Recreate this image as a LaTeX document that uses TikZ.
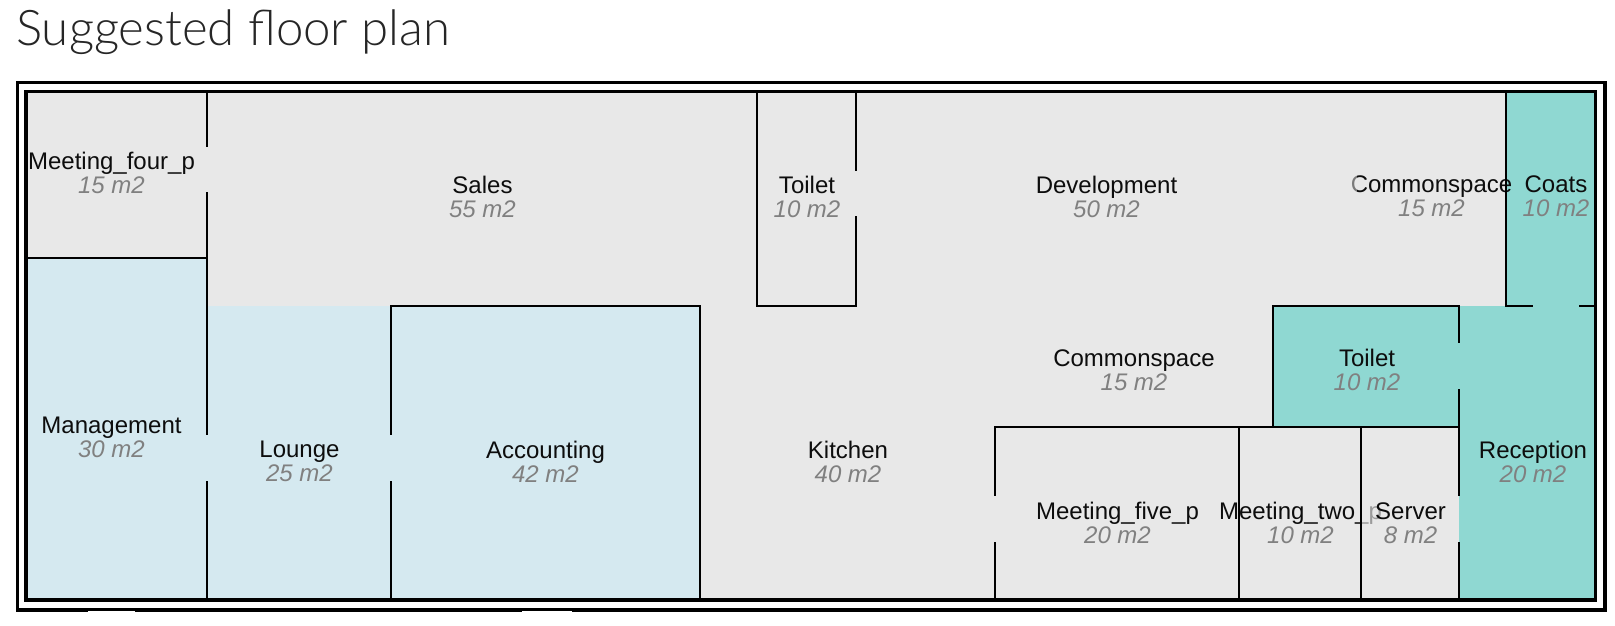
\documentclass[tikz,border=0pt]{standalone}
\usepackage{fontspec}
\setmainfont{Liberation Sans}
\newfontfamily\titlefont{Lato Light}
\definecolor{roomgray}{HTML}{E8E8E8}
\definecolor{roomblue}{HTML}{D5E9F0}
\definecolor{roomteal}{HTML}{8FD8D2}
\definecolor{areagray}{HTML}{808080}
\tikzset{
  wall/.style={line width=2pt,black,line cap=rect},
  frame/.style={line width=3.5pt,black},
  roomlabel/.style={align=center,inner sep=0pt,font=\fontsize{24}{24}\selectfont,text=black!95},
}
\newcommand{\rl}[2]{#1\\{\color{areagray}\itshape #2}}
\begin{document}
\begin{tikzpicture}[x=1pt,y=-1pt]
\useasboundingbox (0,0) rectangle (1615,625);
\node[anchor=base west,inner sep=0pt,font=\titlefont\fontsize{49.2}{49.2}\selectfont,text=black!85] (title) at (16,45.5) {Suggested floor plan};
% fills
\fill[roomgray] (26,91.5) rectangle (1596,600);
\fill[roomblue] (26,257.5) rectangle (207,600);
\fill[roomblue] (207,305.5) rectangle (700,600);
\fill[roomteal] (1506,91.5) rectangle (1596,305.5);
\fill[roomteal] (1273,305.5) rectangle (1596,427);
\fill[roomteal] (1459,427) rectangle (1596,600);
% labels
\node[roomlabel] (meetfour) at (111.5,172.5) {\rl{Meeting\_four\_p}{15 m2}};
\node[roomlabel] (sales) at (482.5,196.5) {\rl{Sales}{55 m2}};
\node[roomlabel] (toileta) at (807,196.5) {\rl{Toilet}{10 m2}};
\node[roomlabel] (dev) at (1106.5,196.5) {\rl{Development}{50 m2}};
\node[roomlabel] (commona) at (1431.5,196.5) {\rl{Commonspace}{15 m2}};
\node[roomlabel] (coats) at (1556,196.5) {\rl{Coats}{10 m2}};
\node[roomlabel] (commonb) at (1134,370) {\rl{Commonspace}{15 m2}};
\node[roomlabel] (toiletb) at (1367,369.5) {\rl{Toilet}{10 m2}};
\node[roomlabel] (mgmt) at (111.5,437.5) {\rl{Management}{30 m2}};
\node[roomlabel] (lounge) at (299.5,461.5) {\rl{Lounge}{25 m2}};
\node[roomlabel] (acct) at (545.5,461.5) {\rl{Accounting}{42 m2}};
\node[roomlabel] (kitchen) at (848,461.5) {\rl{Kitchen}{40 m2}};
\node[roomlabel] (recep) at (1533,461.5) {\rl{Reception}{20 m2}};
\node[roomlabel] (meetfive) at (1117.5,523) {\rl{Meeting\_five\_p}{20 m2}};
\node[roomlabel] (meettwo) at (1300.5,523) {\rl{Meeting\_two\_p}{10 m2}};
% fades where a later room lies over an earlier label
\fill[roomgray,opacity=.65] (1361,500) rectangle (1390,530);
\node[roomlabel] (server) at (1410.5,523) {\rl{Server}{8 m2}};
\fill[roomgray,opacity=.5] (1345,172) rectangle (1357,196);
% walls
\draw[wall] (207,91.5) -- (207,146);
\draw[wall] (207,193) -- (207,434);
\draw[wall] (207,482) -- (207,600);
\draw[wall] (26,257.5) -- (207,257.5);
\draw[wall] (391,600) -- (391,482);
\draw[wall] (391,434) -- (391,305.5) -- (700,305.5) -- (700,600);
\draw[wall] (756.5,91.5) -- (756.5,305.5) -- (856,305.5) -- (856,217);
\draw[wall] (856,169.5) -- (856,91.5);
\draw[wall] (1506,91.5) -- (1506,305.5) -- (1532,305.5);
\draw[wall] (1580,305.5) -- (1596,305.5);
\draw[wall] (1273,427) -- (1273,305.5) -- (1459,305.5) -- (1459,342);
\draw[wall] (1459,390) -- (1459,495);
\draw[wall] (1459,542.5) -- (1459,600);
\draw[wall] (995,495) -- (995,427) -- (1459,427);
\draw[wall] (995,542.5) -- (995,600);
\draw[wall] (1239,427) -- (1239,600);
\draw[wall] (1361,427) -- (1361,600);
% frames
\draw[frame] (26,91.3) rectangle (1595.5,600);
\draw[frame] (17.4,82.5) rectangle (1605,610);
% notches on the lower edge of the outer frame
\fill[white] (88,611) rectangle (135,613);
\fill[white] (522,611) rectangle (571.5,613);
\end{tikzpicture}
\end{document}
